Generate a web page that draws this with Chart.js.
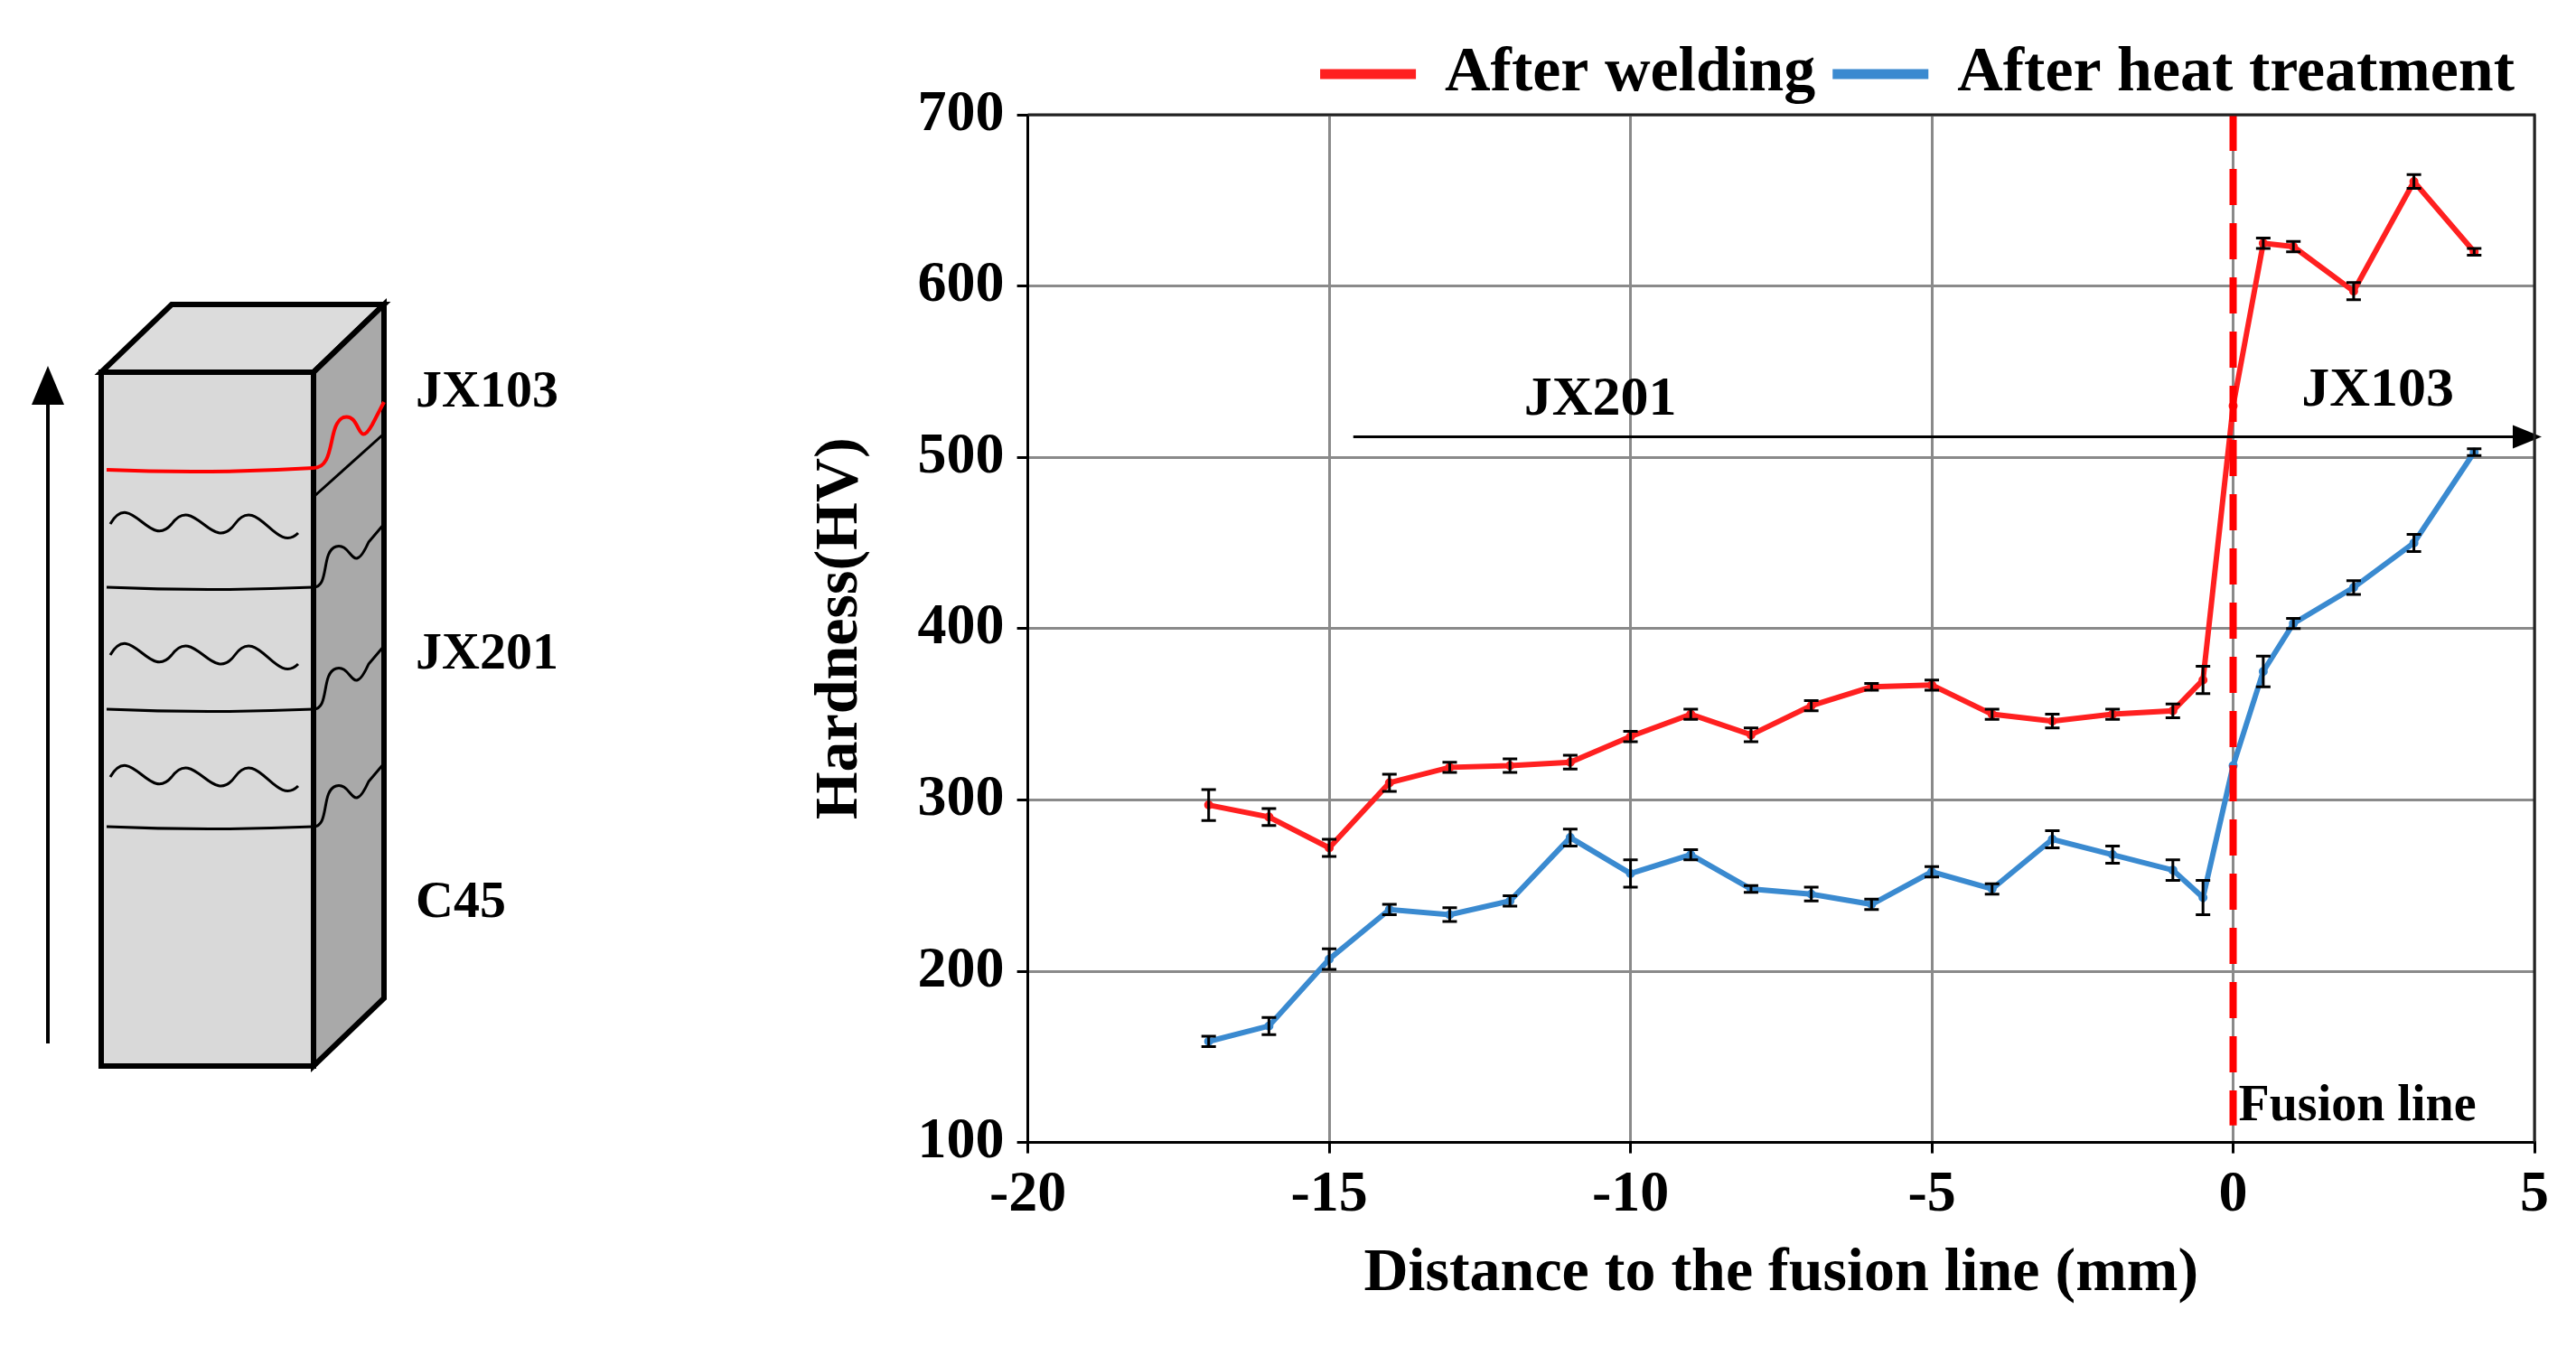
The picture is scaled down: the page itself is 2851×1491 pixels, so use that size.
<!DOCTYPE html>
<html>
<head>
<meta charset="utf-8">
<script src="https://cdn.jsdelivr.net/npm/chart.js@4/dist/chart.umd.min.js"></script>
<style>
  html, body { margin: 0; padding: 0; background: #fff; }
  body { width: 2851px; height: 1491px; position: relative; overflow: hidden; font-family: "Liberation Serif", serif; }
  #sketch { position: absolute; left: 0; top: 0; }
  #wrap { position: absolute; left: 860px; top: 0; width: 1980px; height: 1491px; }
</style>
</head>
<body>
<svg id="sketch" width="820" height="1491" viewBox="0 0 820 1491">
  <!-- side arrow -->
  <line x1="53" y1="1155" x2="53" y2="440" stroke="#000" stroke-width="4"/>
  <polygon points="53,405 35,448 71,448" fill="#000"/>
  <!-- block -->
  <polygon points="112,412 190,337 425,337 347,412" fill="#dcdcdc" stroke="#000" stroke-width="6"/>
  <polygon points="347,412 425,337 425,1105 347,1180" fill="#a9a9a9" stroke="#000" stroke-width="6"/>
  <rect x="112" y="412" width="235" height="768" fill="#d9d9d9" stroke="#000" stroke-width="6"/>
  <!-- layers front -->
  <path d="M118,520 Q230,525 347,518" fill="none" stroke="#f00" stroke-width="4"/>
  <path d="M347,518 C372,518 362,470 380,462 C400,456 395,500 412,470 L425,445" fill="none" stroke="#f00" stroke-width="4"/>
  <path d="M118,650 Q230,655 347,650" fill="none" stroke="#000" stroke-width="3"/>
  <path d="M118,785 Q230,790 347,785" fill="none" stroke="#000" stroke-width="3"/>
  <path d="M118,915 Q230,920 347,915" fill="none" stroke="#000" stroke-width="3"/>
  <path d="M122,580 C145,540 165,610 190,580 C215,545 235,615 260,580 C285,545 305,615 330,590" fill="none" stroke="#000" stroke-width="3"/>
  <path d="M122,725 C145,685 165,755 190,725 C215,690 235,760 260,725 C285,690 305,760 330,735" fill="none" stroke="#000" stroke-width="3"/>
  <path d="M122,860 C145,820 165,890 190,860 C215,825 235,895 260,860 C285,825 305,895 330,870" fill="none" stroke="#000" stroke-width="3"/>
  <!-- layers side -->
  <path d="M347,650 C365,650 355,610 372,605 C390,600 390,640 408,600 L425,580" fill="none" stroke="#000" stroke-width="3"/>
  <path d="M347,785 C365,785 355,745 372,740 C390,735 390,775 408,735 L425,715" fill="none" stroke="#000" stroke-width="3"/>
  <path d="M347,915 C365,915 355,875 372,870 C390,865 390,905 408,865 L425,845" fill="none" stroke="#000" stroke-width="3"/>
  <path d="M347,550 L425,480" fill="none" stroke="#000" stroke-width="3"/>
  <text x="460" y="450" font-family="Liberation Serif" font-weight="bold" font-size="58">JX103</text>
  <text x="460" y="740" font-family="Liberation Serif" font-weight="bold" font-size="58">JX201</text>
  <text x="460" y="1015" font-family="Liberation Serif" font-weight="bold" font-size="58">C45</text>
</svg>
<div id="wrap"><canvas id="chart"></canvas></div>
<script>
// measurement positions (mm from fusion line)
var distances = [-17, -16, -15, -14, -13, -12, -11, -10, -9, -8, -7, -6, -5, -4, -3, -2, -1, -0.5, 0, 0.5, 1, 2, 3, 4];
var afterWelding = [297, 290, 272, 310, 319, 320, 322, 337, 350, 338, 355, 366, 367, 350, 346, 350, 352, 370, 530, 625, 623, 597, 661, 620];
var weldingErr = [9, 5, 5, 5, 3, 4, 4, 3, 3, 4, 3, 2, 3, 3, 4, 3, 4, 8, 0, 3, 3, 5, 4, 2];
var afterHeat = [159, 168, 207, 236, 233, 241, 278, 257, 268, 248, 245, 239, 258, 248, 277, 268, 259, 243, 320, 375, 403, 424, 450, 503];
var heatErr = [3, 5, 6, 3, 4, 3, 5, 8, 3, 2, 4, 3, 3, 3, 5, 5, 6, 10, 0, 9, 3, 4, 5, 2];
var xTicks = [-20, -15, -10, -5, 0, 5];

var FONT = "Liberation Serif";

function toPoints(vals) {
    return distances.map(function(d, i) { return {x: d, y: vals[i]}; });
}

var extras = {
    id: 'extras',
    afterDatasetsDraw: function(chart) {
        var ctx = chart.ctx, xs = chart.scales.x, ys = chart.scales.y, a = chart.chartArea;
        ctx.save();
        // error bars
        [[afterWelding, weldingErr], [afterHeat, heatErr]].forEach(function(s) {
            ctx.strokeStyle = '#000';
            ctx.lineWidth = 3;
            distances.forEach(function(d, i) {
                if (!s[1][i]) { return; }
                var px = xs.getPixelForValue(d);
                var top = ys.getPixelForValue(s[0][i] + s[1][i]);
                var bot = ys.getPixelForValue(s[0][i] - s[1][i]);
                ctx.beginPath();
                ctx.moveTo(px, top); ctx.lineTo(px, bot);
                ctx.moveTo(px - 8, top); ctx.lineTo(px + 8, top);
                ctx.moveTo(px - 8, bot); ctx.lineTo(px + 8, bot);
                ctx.stroke();
            });
        });
        // fusion line
        var x0 = xs.getPixelForValue(0);
        ctx.strokeStyle = '#ff0000';
        ctx.lineWidth = 8;
        ctx.setLineDash([40, 20]);
        ctx.beginPath();
        ctx.moveTo(x0, a.top); ctx.lineTo(x0, ys.getPixelForValue(110));
        ctx.stroke();
        ctx.setLineDash([]);
        // arrow
        var ay = ys.getPixelForValue(512);
        var ax1 = xs.getPixelForValue(-14.6), ax2 = a.right + 8;
        ctx.strokeStyle = '#000';
        ctx.lineWidth = 3;
        ctx.beginPath(); ctx.moveTo(ax1, ay); ctx.lineTo(ax2 - 30, ay); ctx.stroke();
        ctx.fillStyle = '#000';
        ctx.beginPath(); ctx.moveTo(ax2, ay); ctx.lineTo(ax2 - 32, ay - 13); ctx.lineTo(ax2 - 32, ay + 13); ctx.fill();
        // frame top / right
        ctx.lineWidth = 3;
        ctx.strokeStyle = '#222';
        ctx.beginPath(); ctx.moveTo(a.left, a.top); ctx.lineTo(a.right, a.top); ctx.lineTo(a.right, a.bottom); ctx.stroke();
        // labels
        ctx.font = 'bold 62px ' + FONT;
        ctx.textBaseline = 'alphabetic';
        ctx.textAlign = 'center';
        ctx.fillText('JX201', xs.getPixelForValue(-10.5), ys.getPixelForValue(525));
        ctx.fillText('JX103', xs.getPixelForValue(2.4), ys.getPixelForValue(530));
        ctx.textAlign = 'left';
        ctx.font = 'bold 56px ' + FONT;
        ctx.fillText('Fusion line', x0 + 6, ys.getPixelForValue(113));
        ctx.restore();
    }
};

new Chart(document.getElementById('chart'), {
    type: 'line',
    data: {
        datasets: [{
            label: 'After welding',
            data: toPoints(afterWelding),
            borderColor: '#ff2020',
            backgroundColor: '#ff2020',
            borderWidth: 6,
            pointRadius: 2,
            tension: 0
        }, {
            label: 'After heat treatment',
            data: toPoints(afterHeat),
            borderColor: '#3a8ad0',
            backgroundColor: '#3a8ad0',
            borderWidth: 6,
            pointRadius: 2,
            tension: 0
        }]
    },
    options: {
        responsive: true,
        maintainAspectRatio: false,
        animation: false,
        layout: {padding: {left: 0, right: 35, top: 25, bottom: 40}},
        plugins: {
            legend: {
                position: 'top',
                align: 'end',
                labels: {
                    font: {family: FONT, size: 70, weight: 'bold'},
                    color: '#000',
                    boxWidth: 100,
                    boxHeight: 5,
                    padding: 22
                }
            },
            tooltip: {enabled: false}
        },
        scales: {
            x: {
                type: 'linear',
                min: -20,
                max: 5,
                afterBuildTicks: function(s) { s.ticks = xTicks.map(function(v) { return {value: v}; }); },
                ticks: {font: {family: FONT, size: 64, weight: 'bold'}, color: '#000', padding: 8},
                grid: {color: '#8a8a8a', lineWidth: 3, tickLength: 12, tickColor: '#000'},
                border: {color: '#000', width: 3},
                title: {display: true, text: 'Distance to the fusion line (mm)', font: {family: FONT, size: 68, weight: 'bold'}, color: '#000', padding: 0}
            },
            y: {
                min: 100,
                max: 700,
                ticks: {stepSize: 100, font: {family: FONT, size: 64, weight: 'bold'}, color: '#000', padding: 14},
                grid: {color: '#8a8a8a', lineWidth: 3, tickLength: 12, tickColor: '#000'},
                border: {color: '#000', width: 3},
                title: {display: true, text: 'Hardness(HV)', font: {family: FONT, size: 68, weight: 'bold'}, color: '#000', padding: 30}
            }
        }
    },
    plugins: [extras]
});
</script>
</body>
</html>
